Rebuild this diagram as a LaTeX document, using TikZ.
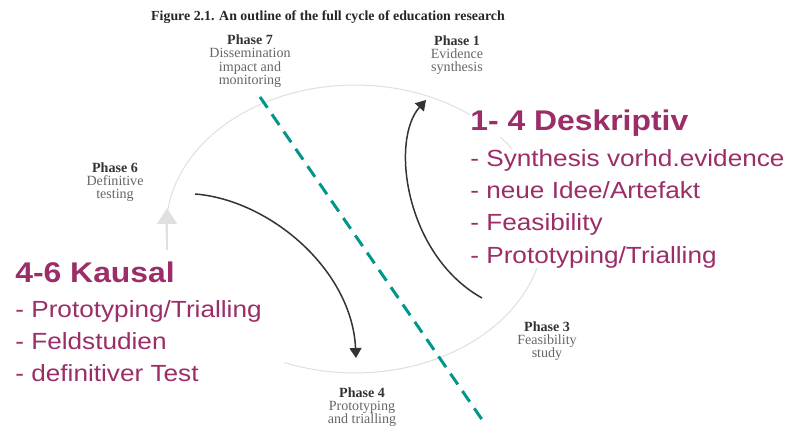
\documentclass[tikz,border=0pt]{standalone}
\usepackage{fontspec}
\setmainfont{Liberation Serif}
\newfontfamily\slidefont[FakeStretch=1.12]{Liberation Sans}
\usetikzlibrary{arrows.meta}
\definecolor{slidepurple}{RGB}{155,45,105}
\definecolor{cutteal}{RGB}{0,150,140}

\begin{document}
\begin{tikzpicture}[x=0.02cm,y=-0.02cm,
	phase/.style={align=center,inner sep=0pt,text=black!60,font=\fontsize{8}{7.6}\selectfont},
	head/.style={anchor=base west,inner sep=0pt,fill=white,text=slidepurple,font=\slidefont\bfseries\fontsize{16.2}{19}\selectfont},
	items/.style={anchor=north west,align=left,inner sep=0pt,fill=white,text=slidepurple,font=\slidefont\fontsize{13.3}{18.4}\selectfont},
	flow/.style={black!80,line width=0.85pt,-{Triangle[length=0.2cm,width=0.24cm]}}]
	\useasboundingbox (0,0) rectangle (793,428);
	% faint cycle of the scanned figure
	\draw[black!12,line width=0.6pt] plot[domain=-112:188,samples=80] ({355+189*cos(\x)},{229-144*sin(\x)});
	\coordinate (cyclea) at (167,250);
	\coordinate (cycleb) at (167,208);
	\draw[black!12,line width=0.6pt,-{Triangle[length=0.32cm,width=0.4cm]}] (cyclea) -- (cycleb);
	% scanned labels
	\node[font=\bfseries\fontsize{7.9}{9}\selectfont,text=black!85] (title) at (328,17) {Figure 2.1. An outline of the full cycle of education research};
	\node[phase] (phaseseven) at (250,61) {\textbf{\color{black!80}Phase 7}\\Dissemination\\impact and\\monitoring};
	\node[phase] (phaseone) at (457,55) {\textbf{\color{black!80}Phase 1}\\Evidence\\synthesis};
	\node[phase] (phasesix) at (115,182) {\textbf{\color{black!80}Phase 6}\\Definitive\\testing};
	\node[phase] (phasethree) at (547,341) {\textbf{\color{black!80}Phase 3}\\Feasibility\\study};
	\node[phase] (phasefour) at (362,407) {\textbf{\color{black!80}Phase 4}\\Prototyping\\and trialling};
	% slide text
	\node[head] (deskhead) at (470,131) {1- 4 Deskriptiv};
	\node[items] (desklist) at (470,149) {- Synthesis vorhd.evidence\\- neue Idee/Artefakt\\- Feasibility\\- Prototyping/Trialling};
	\node[head] (kaushead) at (15,283) {4-6 Kausal};
	\node[items] (kauslist) at (15,300) {- Prototyping/Trialling\\- Feldstudien\\- definitiver Test};
	% arrows
	\coordinate (upstart) at (482,298);
	\coordinate (upend) at (426,100);
	\draw[flow] (upstart) .. controls (405,255) and (390,140) .. (upend);
	\coordinate (downstart) at (195,194);
	\coordinate (downend) at (356,358);
	\draw[flow] (downstart) .. controls (270,200) and (352,270) .. (downend);
	% dividing line
	\coordinate (cuttop) at (260,97);
	\coordinate (cutbottom) at (483,421);
	\draw[cutteal,line width=0.06cm,dash pattern=on 0.26cm off 0.16cm] (cuttop) -- (cutbottom);
\end{tikzpicture}
\end{document}
